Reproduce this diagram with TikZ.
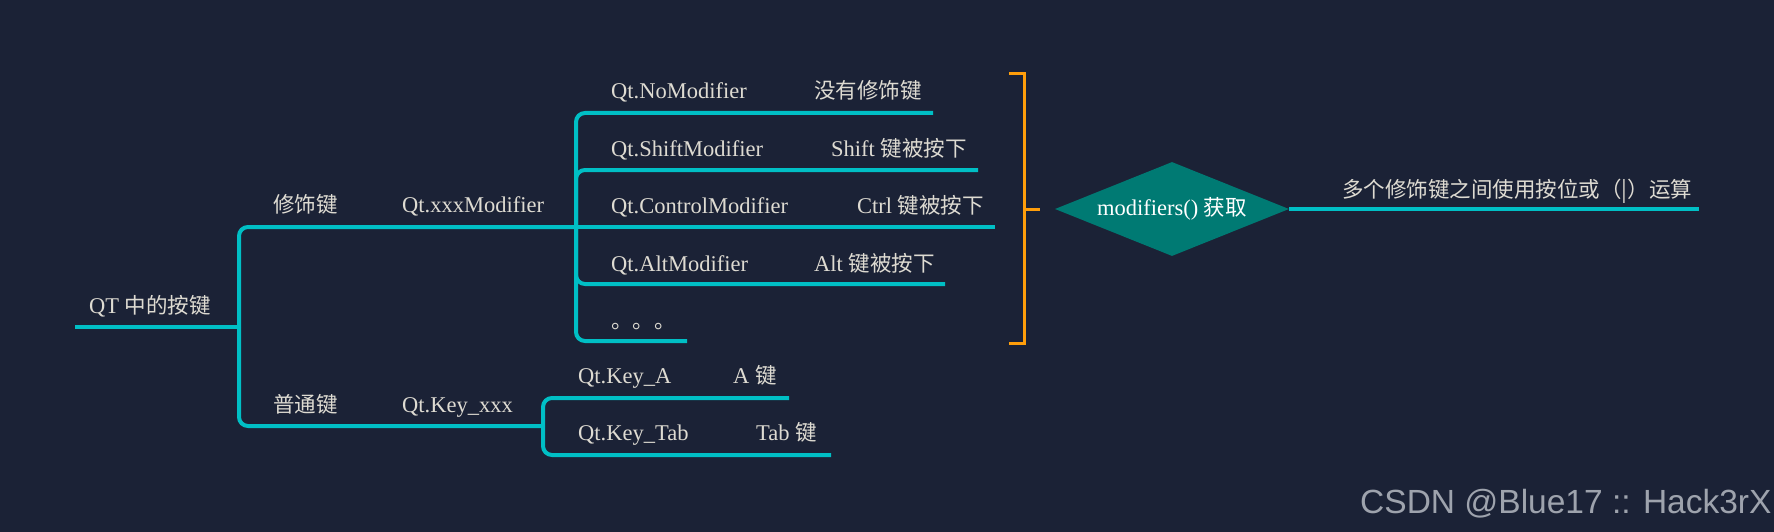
\documentclass[tikz,border=0pt]{standalone}
\usepackage{fontspec}
\setmainfont{Liberation Serif}
\newfontfamily\cjkfam{Noto Sans CJK SC}
\newcommand\cjk{\cjkfam\fontsize{21.5}{24}\selectfont}
\newfontfamily\wmfont{Liberation Sans}
\usetikzlibrary{positioning,shapes.geometric}
\definecolor{canvas}{HTML}{1B2236}
\definecolor{branch}{HTML}{00BFC5}
\definecolor{label}{HTML}{DEDBD2}
\definecolor{bracket}{HTML}{FF9E0B}
\definecolor{decide}{HTML}{007A73}
\definecolor{wm}{HTML}{9EA3AD}

\begin{document}
\begin{tikzpicture}[x=1pt,y=-1pt,
    every node/.style={font=\fontsize{22.5}{24}\selectfont,text=label,inner sep=0pt},
    txt/.style={anchor=base west},
    line/.style={draw=branch,line width=4pt,rounded corners=9pt},
    brk/.style={draw=bracket,line width=3pt},
    dec/.style={diamond,fill=decide,aspect=2.5,minimum width=234pt,minimum height=94pt,text=white}
]
\useasboundingbox (0,0) rectangle (1774,532);
\fill[canvas] (0,0) rectangle (1774,532);

\coordinate (r0) at (75,327);
\coordinate (rj) at (239,327);
\coordinate (mj) at (576,227);
\coordinate (kj) at (543,426);
\coordinate (noEnd) at (933,113);
\coordinate (shiftEnd) at (978,170);
\coordinate (ctrlEnd) at (995,227);
\coordinate (altEnd) at (945,284);
\coordinate (moreEnd) at (687,341);
\coordinate (aEnd) at (789,398);
\coordinate (tabEnd) at (831,455);
\coordinate (tick) at (1040,209);
\coordinate (noteEnd) at (1699,209);

\draw[line] (r0) -- (rj);
\draw[line] (rj) |- (mj);
\draw[line] (rj) |- (kj);
\foreach \e in {noEnd,shiftEnd,altEnd,moreEnd}
  \draw[line] (mj) |- (\e);
\draw[line] (mj) -- (ctrlEnd);
\draw[line] (kj) |- (aEnd);
\draw[line] (kj) |- (tabEnd);

\node[txt] (root) at (89,313) {QT {\cjk 中的按键}};
\node[txt] (mod) at (273,212) {\cjk 修饰键};
\node[txt] (modq) at (402,212) {Qt.xxxModifier};
\node[txt] (key) at (273,412) {\cjk 普通键};
\node[txt] (keyq) at (402,412) {Qt.Key\_xxx};

\node[txt] (no) at (611,99) {Qt.NoModifier};
\node[txt] (nod) at (814,99) {\cjk 没有修饰键};
\node[txt] (shift) at (611,157) {Qt.ShiftModifier};
\node[txt] (shiftd) at (831,157) {Shift {\cjk 键被按下}};
\node[txt] (ctrl) at (611,213) {Qt.ControlModifier};
\node[txt] (ctrld) at (857,213) {Ctrl {\cjk 键被按下}};
\node[txt] (alt) at (611,271) {Qt.AltModifier};
\node[txt] (altd) at (814,271) {Alt {\cjk 键被按下}};
\node[txt] (more) at (611,328) {\cjk 。。。};

\node[txt] (ka) at (578,383) {Qt.Key\_A};
\node[txt] (kad) at (733,383) {A {\cjk 键}};
\node[txt] (ktab) at (578,440) {Qt.Key\_Tab};
\node[txt] (ktabd) at (756,440) {Tab {\cjk 键}};

\draw[brk] (1009,74) -- (1024,74) -- (1024,343) -- (1009,343);
\draw[brk] (1024,209) -- (tick);

\node[dec] (get) at (1172,209) {modifiers() {\cjk 获取}};
\draw[line] (get.east) -- (noteEnd);
\node[txt] (note) at (1342,197) {\cjk 多个修饰键之间使用按位或（|）运算};

\node[txt,font=\wmfont\fontsize{33.5}{36}\selectfont,text=wm] (mark) at (1360,513) {CSDN @Blue17 :: Hack3rX};
\end{tikzpicture}
\end{document}
